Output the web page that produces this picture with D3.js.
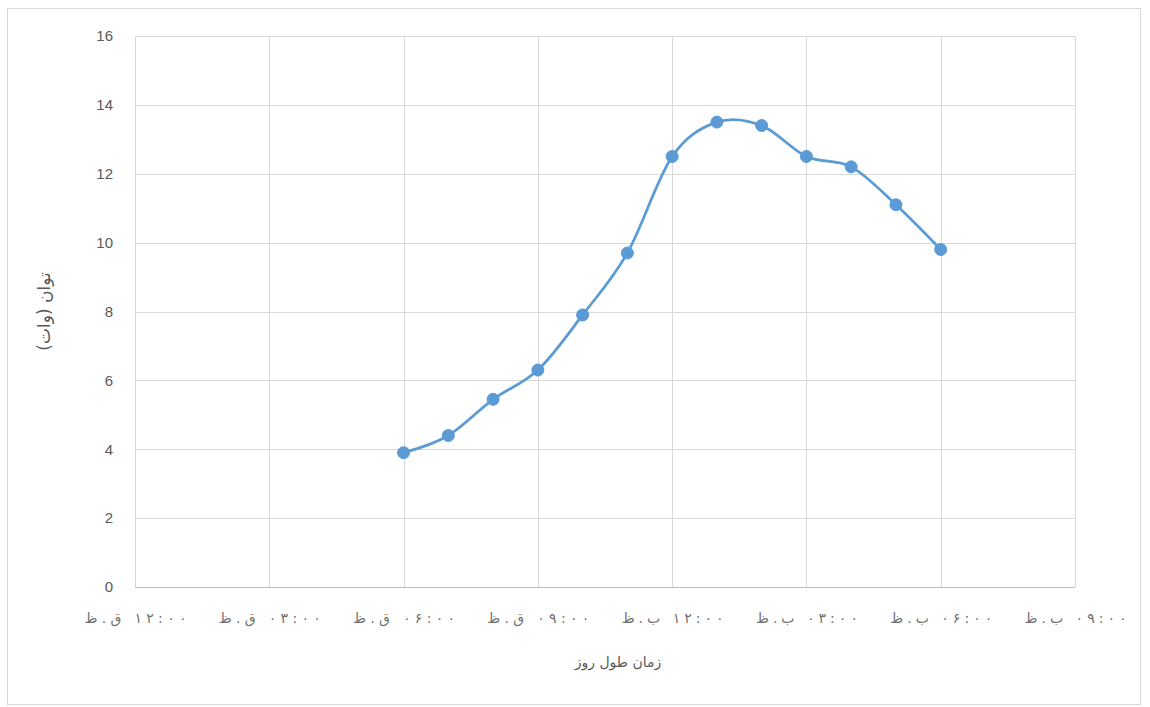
<!DOCTYPE html>
<html>
<head>
<meta charset="utf-8">
<script src="https://cdn.jsdelivr.net/npm/d3@7"></script>
<style>
  html, body { margin: 0; padding: 0; background: #fff; }
  svg { display: block; }
</style>
</head>
<body>
<svg id="chart" width="1150" height="707"></svg>
<script>
// Hour of day for each measurement (24h clock)
const hours = [6, 7, 8, 9, 10, 11, 12, 13, 14, 15, 16, 17, 18];
// Measured power in watts
const power = [3.9, 4.4, 5.45, 6.3, 7.9, 9.7, 12.5, 13.5, 13.4, 12.5, 12.2, 11.1, 9.8];

// Axis ticks
const xTickHours = [0, 3, 6, 9, 12, 15, 18, 21];
const xTickLabels = ["۱۲:۰۰ ق.ظ", "۰۳:۰۰ ق.ظ", "۰۶:۰۰ ق.ظ", "۰۹:۰۰ ق.ظ",
                     "۱۲:۰۰ ب.ظ", "۰۳:۰۰ ب.ظ", "۰۶:۰۰ ب.ظ", "۰۹:۰۰ ب.ظ"];
const yTicks = [0, 2, 4, 6, 8, 10, 12, 14, 16];

const xTitle = "زمان طول روز";
const yTitle = "توان (وات)";

const svg = d3.select("#chart");
const plot = { left: 135, right: 1075, top: 36, bottom: 587 };

const x = d3.scaleLinear().domain([0, 21]).range([plot.left, plot.right]);
const y = d3.scaleLinear().domain([0, 16]).range([plot.bottom, plot.top]);

const gridColor = "#d9d9d9";
const textColor = "#595959";
const seriesColor = "#5b9bd5";

// Chart frame
svg.append("rect")
  .attr("x", 7.5).attr("y", 8.5)
  .attr("width", 1133).attr("height", 696)
  .attr("fill", "#fff")
  .attr("stroke", gridColor).attr("stroke-width", 1);

// Horizontal gridlines
svg.append("g")
  .selectAll("line")
  .data(yTicks.filter(d => d > 0))
  .join("line")
  .attr("x1", plot.left).attr("x2", plot.right)
  .attr("y1", d => Math.round(y(d)) + 0.5).attr("y2", d => Math.round(y(d)) + 0.5)
  .attr("stroke", gridColor).attr("stroke-width", 1);

// Vertical gridlines
svg.append("g")
  .selectAll("line")
  .data(xTickHours)
  .join("line")
  .attr("x1", d => Math.round(x(d)) + 0.5).attr("x2", d => Math.round(x(d)) + 0.5)
  .attr("y1", plot.top).attr("y2", plot.bottom)
  .attr("stroke", gridColor).attr("stroke-width", 1);

// Baseline axis
svg.append("line")
  .attr("x1", plot.left).attr("x2", plot.right)
  .attr("y1", Math.round(y(0)) + 0.5).attr("y2", Math.round(y(0)) + 0.5)
  .attr("stroke", "#bfbfbf").attr("stroke-width", 1);

// Y axis (labels only)
const yAxis = d3.axisLeft(y).tickValues(yTicks).tickSize(0).tickPadding(22)
  .tickFormat(d3.format("d"));
const gy = svg.append("g").attr("transform", `translate(${plot.left},0)`).call(yAxis);
gy.select(".domain").remove();
gy.selectAll("text")
  .attr("fill", textColor)
  .style("font-family", "'Liberation Sans', 'DejaVu Sans', sans-serif")
  .style("font-size", "15px");

// X axis (labels only), stretched with wide glyph spacing
const xAxis = d3.axisBottom(x).tickValues(xTickHours).tickSize(0).tickPadding(26)
  .tickFormat((d, i) => xTickLabels[i]);
const gx = svg.append("g").attr("transform", `translate(0,${plot.bottom})`).call(xAxis);
gx.select(".domain").remove();
gx.selectAll("text")
  .attr("fill", "#6f6f6f")
  .attr("direction", "rtl")
  .attr("textLength", 102)
  .attr("lengthAdjust", "spacing")
  .style("unicode-bidi", "plaintext")
  .style("font-family", "'DejaVu Sans', sans-serif")
  .style("font-size", "14px");

// Axis titles
svg.append("text")
  .attr("x", (plot.left + plot.right) / 2 + 13).attr("y", 667)
  .attr("text-anchor", "middle")
  .attr("direction", "rtl")
  .attr("fill", textColor)
  .style("font-family", "'DejaVu Sans', sans-serif")
  .style("font-size", "14px")
  .text(xTitle);

svg.append("text")
  .attr("transform", `translate(50,${(plot.top + plot.bottom) / 2}) rotate(-90)`)
  .attr("text-anchor", "middle")
  .attr("direction", "rtl")
  .attr("fill", textColor)
  .style("font-family", "'DejaVu Sans', sans-serif")
  .style("font-size", "17px")
  .text(yTitle);

// Smoothed series line
const data = hours.map((h, i) => ({ h, v: power[i] }));
const line = d3.line()
  .x(d => x(d.h))
  .y(d => y(d.v))
  .curve(d3.curveCatmullRom.alpha(0));

svg.append("path")
  .datum(data)
  .attr("d", line)
  .attr("fill", "none")
  .attr("stroke", seriesColor)
  .attr("stroke-width", 2.75)
  .attr("stroke-linejoin", "round");

// Markers
svg.append("g")
  .selectAll("circle")
  .data(data)
  .join("circle")
  .attr("cx", d => x(d.h))
  .attr("cy", d => y(d.v))
  .attr("r", 6)
  .attr("fill", seriesColor)
  .attr("stroke", seriesColor)
  .attr("stroke-width", 1);
</script>
</body>
</html>
